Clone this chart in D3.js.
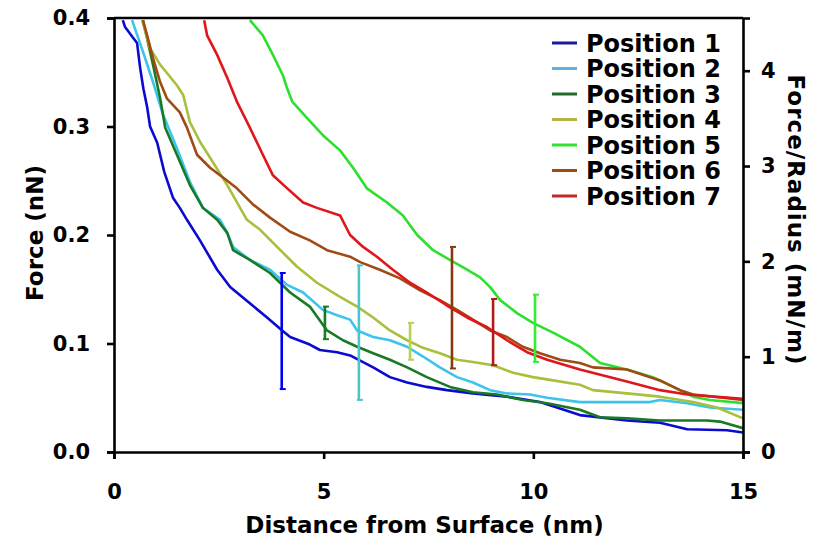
<!DOCTYPE html>
<html>
<head>
<meta charset="utf-8">
<script src="https://cdn.jsdelivr.net/npm/d3@7"></script>
<style>
  body { margin: 0; background: #fff; }
  text { font-family: "DejaVu Sans", sans-serif; font-weight: bold; fill: #000; }
</style>
</head>
<body>
<div id="chart"></div>
<script>
// distance (nm), force (nN)
const pos1 = [[0.21,0.398],[0.26,0.392],[0.45,0.382],[0.55,0.377],[0.62,0.355],[0.7,0.335],[0.79,0.318],[0.86,0.300],[1.03,0.285],[1.20,0.258],[1.41,0.234],[1.57,0.225],[1.74,0.214],[2.05,0.195],[2.46,0.168],[2.77,0.152],[3.24,0.137],[3.65,0.124],[4.01,0.112],[4.2,0.106],[4.67,0.099],[4.91,0.094],[5.32,0.092],[5.63,0.089],[6.18,0.078],[6.58,0.069],[6.99,0.064],[7.46,0.060],[7.94,0.057],[8.56,0.054],[9.37,0.051],[10.16,0.046],[11.11,0.034],[12.23,0.029],[13.02,0.027],[13.67,0.021],[14.62,0.020],[15,0.018]];
const pos2 = [[0.43,0.398],[0.69,0.369],[0.93,0.341],[1.17,0.311],[1.50,0.280],[1.81,0.249],[2.12,0.225],[2.53,0.214],[2.70,0.202],[2.84,0.189],[3.24,0.177],[3.72,0.168],[4.13,0.154],[4.51,0.147],[4.98,0.131],[5.32,0.126],[5.63,0.122],[5.80,0.112],[6.18,0.106],[6.58,0.103],[6.99,0.097],[7.37,0.088],[7.77,0.078],[8.18,0.069],[8.56,0.064],[8.97,0.057],[9.37,0.054],[9.92,0.053],[10.33,0.050],[11.11,0.046],[12.78,0.046],[13.02,0.048],[13.67,0.045],[14.21,0.041],[15,0.039]];
const pos3 = [[0.69,0.398],[0.93,0.357],[1.10,0.326],[1.22,0.299],[1.50,0.274],[1.81,0.246],[2.12,0.225],[2.46,0.214],[2.70,0.202],[2.84,0.186],[3.24,0.177],[3.72,0.165],[4.20,0.147],[4.67,0.134],[5.08,0.112],[5.46,0.103],[5.80,0.097],[6.18,0.091],[6.58,0.085],[6.99,0.078],[7.46,0.069],[8.01,0.060],[8.56,0.055],[9.13,0.053],[9.75,0.048],[10.33,0.045],[11.11,0.039],[11.59,0.032],[12.23,0.031],[13.02,0.029],[14.14,0.029],[14.45,0.028],[15,0.022]];
const pos4 = [[0.67,0.398],[0.86,0.372],[1.10,0.357],[1.50,0.338],[1.65,0.329],[1.81,0.304],[2.05,0.286],[2.36,0.267],[2.70,0.246],[3.17,0.214],[3.48,0.205],[3.89,0.189],[4.36,0.171],[4.84,0.156],[5.39,0.143],[5.80,0.134],[6.18,0.124],[6.58,0.112],[6.99,0.103],[7.37,0.096],[7.77,0.091],[8.18,0.085],[8.56,0.083],[9.04,0.080],[9.52,0.073],[9.99,0.069],[10.47,0.066],[11.11,0.062],[11.42,0.057],[12.23,0.054],[13.02,0.051],[13.81,0.046],[14.38,0.041],[15,0.031]];
const pos5 = [[3.24,0.398],[3.55,0.384],[3.79,0.366],[4.03,0.347],[4.13,0.335],[4.25,0.323],[4.60,0.308],[4.98,0.292],[5.39,0.278],[5.70,0.262],[6.03,0.243],[6.51,0.230],[6.89,0.218],[7.23,0.200],[7.61,0.186],[8.01,0.177],[8.42,0.168],[8.73,0.161],[8.97,0.152],[9.21,0.140],[9.61,0.128],[9.99,0.119],[10.47,0.110],[11.11,0.097],[11.59,0.082],[12.23,0.076],[12.85,0.069],[13.33,0.060],[13.81,0.051],[14.21,0.048],[15,0.045]];
const pos6 = [[0.69,0.398],[0.79,0.384],[0.93,0.363],[1.10,0.341],[1.26,0.326],[1.57,0.313],[1.74,0.299],[1.98,0.274],[2.29,0.262],[2.60,0.253],[2.93,0.243],[3.32,0.228],[3.72,0.216],[4.20,0.203],[4.67,0.195],[5.08,0.186],[5.63,0.180],[5.87,0.175],[6.34,0.168],[6.82,0.160],[7.30,0.149],[7.77,0.140],[8.18,0.131],[8.56,0.122],[8.97,0.112],[9.37,0.106],[9.75,0.097],[10.16,0.091],[10.64,0.085],[11.11,0.082],[11.42,0.078],[12.23,0.076],[13.02,0.066],[13.50,0.057],[13.81,0.053],[15,0.048]];
const pos7 = [[2.15,0.398],[2.22,0.384],[2.46,0.366],[2.70,0.345],[2.93,0.323],[3.24,0.299],[3.55,0.274],[3.79,0.255],[4.13,0.243],[4.51,0.230],[4.84,0.225],[5.39,0.218],[5.63,0.200],[5.94,0.189],[6.27,0.180],[6.65,0.168],[7.06,0.156],[7.46,0.147],[7.94,0.135],[8.42,0.124],[8.90,0.115],[9.37,0.103],[9.85,0.092],[10.33,0.085],[11.11,0.076],[12.23,0.065],[13.02,0.057],[13.67,0.053],[15,0.049]];

const seriesNames = ["Position 1", "Position 2", "Position 3", "Position 4", "Position 5", "Position 6", "Position 7"];
const seriesData = [pos1, pos2, pos3, pos4, pos5, pos6, pos7];
const lineColors = ["#0a0ad0", "#3cc4ec", "#187a24", "#a8c03c", "#2ee02e", "#a04a14", "#e0161a"];
const legendColors = ["#1a1a9a", "#5ab4dc", "#1f6a2a", "#b4b44a", "#33e033", "#a04a14", "#c02828"];
const barColors = ["#0000f0", "#4cc4cc", "#1a7a22", "#b8d050", "#33ee33", "#8a3a10", "#b01c1c"];

// error bars: x position, low, high (nN)
const errX = [4.0, 5.84, 5.03, 7.06, 10.04, 8.06, 9.04];
const errLow = [0.058, 0.048, 0.104, 0.085, 0.083, 0.077, 0.080];
const errHigh = [0.165, 0.172, 0.134, 0.119, 0.145, 0.189, 0.141];

const xTicks = [0, 5, 10, 15];
const yTicks = [0, 0.1, 0.2, 0.3, 0.4];
const rightTicks = [0, 1, 2, 3, 4];

const W = 817, H = 546;
const margin = { left: 114, right: 743, top: 18, bottom: 452 };

const svg = d3.select("#chart").append("svg")
    .attr("width", W)
    .attr("height", H);

const x = d3.scaleLinear().domain([0, 15]).range([margin.left, margin.right]);
const y = d3.scaleLinear().domain([0, 0.4]).range([margin.bottom, margin.top]);
// right axis: Force/Radius, same pixels
const yR = d3.scaleLinear().domain([0, 4.553]).range([margin.bottom, margin.top]);

svg.append("clipPath").attr("id", "plotclip")
    .append("rect")
    .attr("x", margin.left).attr("y", margin.top)
    .attr("width", margin.right - margin.left).attr("height", margin.bottom - margin.top);

const line = d3.line()
    .x(d => x(d[0]))
    .y(d => y(d[1]));

const plot = svg.append("g").attr("clip-path", "url(#plotclip)");

seriesData.forEach((data, i) => {
    plot.append("path")
        .datum(data)
        .attr("fill", "none")
        .attr("stroke", lineColors[i])
        .attr("stroke-width", 2.6)
        .attr("stroke-linejoin", "round")
        .attr("d", line);
});

// error bars
errX.forEach((ex, i) => {
    const g = svg.append("g").attr("stroke", barColors[i]).attr("stroke-width", 2.6);
    g.append("line")
        .attr("x1", x(ex)).attr("x2", x(ex))
        .attr("y1", y(errLow[i])).attr("y2", y(errHigh[i]));
    [errLow[i], errHigh[i]].forEach(v => {
        g.append("line")
            .attr("x1", x(ex) - 2).attr("x2", x(ex) + 4)
            .attr("y1", y(v)).attr("y2", y(v))
            .attr("stroke-width", 2);
    });
});

// axes
const xAxis = svg.append("g")
    .attr("transform", `translate(0,${margin.bottom})`)
    .call(d3.axisBottom(x).tickValues(xTicks).tickSize(7).tickPadding(25).tickFormat(d3.format("d")));

const yAxis = svg.append("g")
    .attr("transform", `translate(${margin.left},0)`)
    .call(d3.axisLeft(y).tickValues(yTicks).tickSize(7).tickPadding(17).tickFormat(d3.format(".1f")));

const rAxis = svg.append("g")
    .attr("transform", `translate(${margin.right},0)`)
    .call(d3.axisRight(yR).tickValues(rightTicks).tickSize(7).tickPadding(11).tickFormat(d3.format("d")));

[xAxis, yAxis, rAxis].forEach(a => {
    a.select(".domain").attr("stroke", "#000").attr("stroke-width", 2.6);
    a.selectAll(".tick line").attr("stroke", "#000").attr("stroke-width", 2.6);
    a.selectAll(".tick text")
        .style("font-family", "DejaVu Sans, sans-serif")
        .style("font-weight", "bold")
        .style("font-size", "21px")
        .attr("fill", "#000");
});

// top border line
svg.append("line")
    .attr("x1", margin.left).attr("x2", margin.right)
    .attr("y1", margin.top).attr("y2", margin.top)
    .attr("stroke", "#000").attr("stroke-width", 2.6);

// axis titles
svg.append("text")
    .attr("x", (margin.left + margin.right) / 2 - 4)
    .attr("y", 533)
    .attr("text-anchor", "middle")
    .style("font-size", "23px")
    .text("Distance from Surface (nm)");

svg.append("text")
    .attr("transform", `translate(43,233) rotate(-90)`)
    .attr("text-anchor", "middle")
    .style("font-size", "23px")
    .text("Force (nN)");

svg.append("text")
    .attr("transform", `translate(788,220) rotate(90)`)
    .attr("text-anchor", "middle")
    .style("font-size", "23px")
    .style("letter-spacing", "1px")
    .text("Force/Radius (mN/m)");

// legend
const legend = svg.append("g");
seriesNames.forEach((name, i) => {
    const ly = 43 + i * 25.5;
    legend.append("line")
        .attr("x1", 552).attr("x2", 577)
        .attr("y1", ly).attr("y2", ly)
        .attr("stroke", legendColors[i])
        .attr("stroke-width", 3);
    legend.append("text")
        .attr("x", 586)
        .attr("y", ly + 8.5)
        .style("font-size", "24px")
        .text(name);
});
</script>
</body>
</html>
